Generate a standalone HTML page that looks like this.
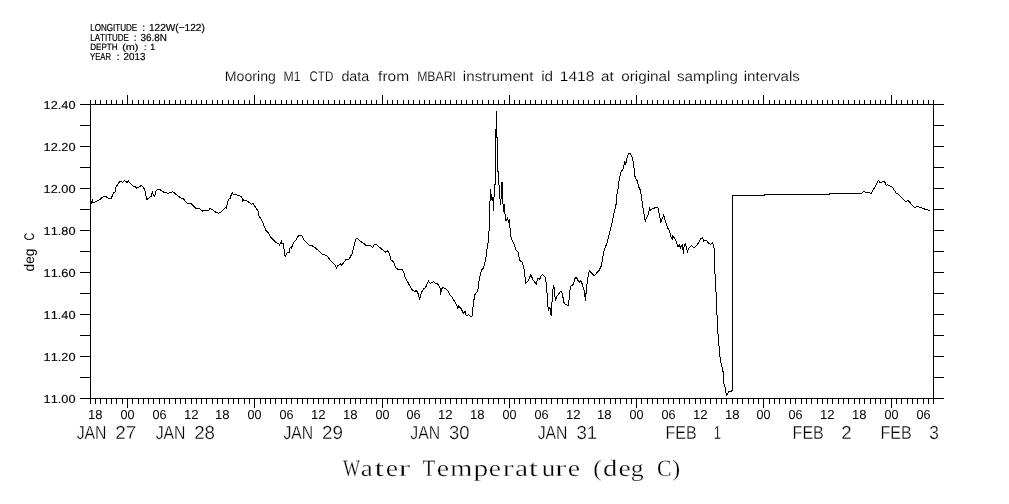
<!DOCTYPE html><html><head><meta charset="utf-8"><style>html,body{margin:0;padding:0;background:#fff;width:1009px;height:504px;overflow:hidden}svg{display:block;filter:grayscale(1)}text{font-family:"Liberation Sans",sans-serif;fill:#000;font-kerning:none;text-rendering:geometricPrecision}</style></head><body>
<svg width="1009" height="504" viewBox="0 0 1009 504">
<path d="M90.5 104V399M933.5 104V399M90 104.5H934M90 398.5H934M80 104.5H90M934 104.5H944M80 125.5H90M934 125.5H944M80 146.5H90M934 146.5H944M80 167.5H90M934 167.5H944M80 188.5H90M934 188.5H944M80 209.5H90M934 209.5H944M80 230.5H90M934 230.5H944M80 251.5H90M934 251.5H944M80 272.5H90M934 272.5H944M80 293.5H90M934 293.5H944M80 314.5H90M934 314.5H944M80 335.5H90M934 335.5H944M80 356.5H90M934 356.5H944M80 377.5H90M934 377.5H944M80 398.5H90M934 398.5H944M90.5 100V104M90.5 399V404M95.5 100V104M95.5 399V404M100.5 100V104M100.5 399V404M106.5 100V104M106.5 399V404M111.5 100V104M111.5 399V404M116.5 100V104M116.5 399V404M122.5 100V104M122.5 399V404M127.5 95V104M127.5 399V408M132.5 100V104M132.5 399V404M138.5 100V104M138.5 399V404M143.5 100V104M143.5 399V404M148.5 100V104M148.5 399V404M153.5 100V104M153.5 399V404M159.5 100V104M159.5 399V404M164.5 100V104M164.5 399V404M169.5 100V104M169.5 399V404M175.5 100V104M175.5 399V404M180.5 100V104M180.5 399V404M185.5 100V104M185.5 399V404M191.5 100V104M191.5 399V404M196.5 100V104M196.5 399V404M201.5 100V104M201.5 399V404M206.5 100V104M206.5 399V404M212.5 100V104M212.5 399V404M217.5 100V104M217.5 399V404M222.5 100V104M222.5 399V404M228.5 100V104M228.5 399V404M233.5 100V104M233.5 399V404M238.5 100V104M238.5 399V404M244.5 100V104M244.5 399V404M249.5 100V104M249.5 399V404M254.5 95V104M254.5 399V408M260.5 100V104M260.5 399V404M265.5 100V104M265.5 399V404M270.5 100V104M270.5 399V404M275.5 100V104M275.5 399V404M281.5 100V104M281.5 399V404M286.5 100V104M286.5 399V404M291.5 100V104M291.5 399V404M297.5 100V104M297.5 399V404M302.5 100V104M302.5 399V404M307.5 100V104M307.5 399V404M313.5 100V104M313.5 399V404M318.5 100V104M318.5 399V404M323.5 100V104M323.5 399V404M328.5 100V104M328.5 399V404M334.5 100V104M334.5 399V404M339.5 100V104M339.5 399V404M344.5 100V104M344.5 399V404M350.5 100V104M350.5 399V404M355.5 100V104M355.5 399V404M360.5 100V104M360.5 399V404M366.5 100V104M366.5 399V404M371.5 100V104M371.5 399V404M376.5 100V104M376.5 399V404M382.5 95V104M382.5 399V408M387.5 100V104M387.5 399V404M392.5 100V104M392.5 399V404M397.5 100V104M397.5 399V404M403.5 100V104M403.5 399V404M408.5 100V104M408.5 399V404M413.5 100V104M413.5 399V404M419.5 100V104M419.5 399V404M424.5 100V104M424.5 399V404M429.5 100V104M429.5 399V404M435.5 100V104M435.5 399V404M440.5 100V104M440.5 399V404M445.5 100V104M445.5 399V404M450.5 100V104M450.5 399V404M456.5 100V104M456.5 399V404M461.5 100V104M461.5 399V404M466.5 100V104M466.5 399V404M472.5 100V104M472.5 399V404M477.5 100V104M477.5 399V404M482.5 100V104M482.5 399V404M488.5 100V104M488.5 399V404M493.5 100V104M493.5 399V404M498.5 100V104M498.5 399V404M504.5 100V104M504.5 399V404M509.5 95V104M509.5 399V408M514.5 100V104M514.5 399V404M519.5 100V104M519.5 399V404M525.5 100V104M525.5 399V404M530.5 100V104M530.5 399V404M535.5 100V104M535.5 399V404M541.5 100V104M541.5 399V404M546.5 100V104M546.5 399V404M551.5 100V104M551.5 399V404M557.5 100V104M557.5 399V404M562.5 100V104M562.5 399V404M567.5 100V104M567.5 399V404M573.5 100V104M573.5 399V404M578.5 100V104M578.5 399V404M583.5 100V104M583.5 399V404M588.5 100V104M588.5 399V404M594.5 100V104M594.5 399V404M599.5 100V104M599.5 399V404M604.5 100V104M604.5 399V404M610.5 100V104M610.5 399V404M615.5 100V104M615.5 399V404M620.5 100V104M620.5 399V404M626.5 100V104M626.5 399V404M631.5 100V104M631.5 399V404M636.5 95V104M636.5 399V408M641.5 100V104M641.5 399V404M647.5 100V104M647.5 399V404M652.5 100V104M652.5 399V404M657.5 100V104M657.5 399V404M663.5 100V104M663.5 399V404M668.5 100V104M668.5 399V404M673.5 100V104M673.5 399V404M679.5 100V104M679.5 399V404M684.5 100V104M684.5 399V404M689.5 100V104M689.5 399V404M695.5 100V104M695.5 399V404M700.5 100V104M700.5 399V404M705.5 100V104M705.5 399V404M710.5 100V104M710.5 399V404M716.5 100V104M716.5 399V404M721.5 100V104M721.5 399V404M726.5 100V104M726.5 399V404M732.5 100V104M732.5 399V404M737.5 100V104M737.5 399V404M742.5 100V104M742.5 399V404M748.5 100V104M748.5 399V404M753.5 100V104M753.5 399V404M758.5 100V104M758.5 399V404M763.5 95V104M763.5 399V408M769.5 100V104M769.5 399V404M774.5 100V104M774.5 399V404M779.5 100V104M779.5 399V404M785.5 100V104M785.5 399V404M790.5 100V104M790.5 399V404M795.5 100V104M795.5 399V404M801.5 100V104M801.5 399V404M806.5 100V104M806.5 399V404M811.5 100V104M811.5 399V404M817.5 100V104M817.5 399V404M822.5 100V104M822.5 399V404M827.5 100V104M827.5 399V404M832.5 100V104M832.5 399V404M838.5 100V104M838.5 399V404M843.5 100V104M843.5 399V404M848.5 100V104M848.5 399V404M854.5 100V104M854.5 399V404M859.5 100V104M859.5 399V404M864.5 100V104M864.5 399V404M870.5 100V104M870.5 399V404M875.5 100V104M875.5 399V404M880.5 100V104M880.5 399V404M885.5 100V104M885.5 399V404M891.5 95V104M891.5 399V408M896.5 100V104M896.5 399V404M901.5 100V104M901.5 399V404M907.5 100V104M907.5 399V404M912.5 100V104M912.5 399V404M917.5 100V104M917.5 399V404M923.5 100V104M923.5 399V404M928.5 100V104M928.5 399V404M933.5 100V104M933.5 399V404" stroke="#000" stroke-width="1" fill="none" shape-rendering="crispEdges"/>
<path d="M91.0 203.8 L92.3 200.3 L93.0 202.9 L96.3 201.2 L99.9 199.8 L102.3 197.1 L105.9 196.4 L107.6 198.0 L111.2 198.3 L113.0 194.4 L113.6 192.6 L115.4 192.0 L115.6 187.6 L117.8 184.3 L120.1 181.0 L122.5 182.5 L124.3 180.5 L127.3 182.5 L128.5 180.7 L129.7 182.9 L132.6 185.7 L136.2 187.3 L136.8 188.1 L140.4 186.4 L141.0 185.5 L143.4 187.3 L145.1 190.8 L146.3 197.4 L146.9 199.5 L148.7 198.0 L151.1 196.4 L152.3 191.7 L153.5 195.0 L154.7 196.4 L155.9 191.4 L157.6 189.3 L159.4 189.3 L164.2 192.4 L167.8 193.2 L171.3 192.6 L172.5 191.4 L176.7 195.0 L182.0 198.6 L183.6 199.0 L186.5 202.9 L191.3 203.6 L195.5 208.0 L199.6 208.8 L202.0 211.2 L203.8 210.4 L208.6 210.7 L209.8 208.6 L212.7 209.8 L215.7 212.1 L218.7 213.1 L221.1 211.9 L225.8 207.4 L226.4 208.3 L227.6 202.6 L228.8 199.0 L230.6 198.5 L231.2 194.3 L232.1 192.5 L233.3 194.9 L234.8 194.0 L238.3 195.5 L241.9 196.7 L242.5 201.2 L243.7 200.0 L247.9 201.4 L250.2 203.2 L251.4 204.4 L253.2 203.6 L254.4 205.6 L258.0 211.0 L258.6 215.7 L261.0 218.7 L262.1 221.1 L265.7 230.0 L268.1 232.4 L270.5 236.9 L271.8 238.3 L276.0 242.7 L278.9 243.7 L279.5 245.1 L281.3 241.5 L281.9 243.9 L283.3 243.6 L284.3 250.5 L285.2 257.0 L286.1 254.3 L287.9 252.3 L289.0 252.9 L290.2 246.9 L291.4 247.9 L293.8 242.1 L295.6 240.4 L298.6 235.4 L301.5 235.4 L305.1 241.5 L309.3 245.1 L313.5 246.3 L317.6 249.9 L322.4 254.3 L327.1 255.8 L330.7 260.6 L335.5 265.4 L336.4 268.1 L337.9 265.7 L340.8 263.8 L341.4 265.4 L346.2 259.4 L349.2 259.0 L352.1 253.5 L353.9 246.9 L355.7 239.2 L356.9 238.3 L360.5 241.2 L365.2 244.5 L366.4 245.7 L370.9 245.9 L372.9 247.5 L373.9 244.9 L375.9 244.3 L379.8 247.5 L383.8 250.8 L385.8 252.2 L387.8 250.8 L389.8 254.8 L390.8 259.8 L393.7 261.7 L395.7 267.7 L398.7 269.7 L401.7 269.3 L403.7 271.7 L404.6 276.6 L408.6 283.6 L411.6 289.5 L414.6 291.5 L416.5 290.5 L418.5 294.5 L419.5 299.8 L421.5 292.5 L423.5 289.1 L425.5 287.5 L428.5 281.2 L430.4 283.6 L433.4 281.6 L435.4 283.6 L437.4 283.2 L440.4 289.1 L440.4 294.5 L442.3 287.5 L445.3 288.5 L448.3 291.5 L450.3 295.5 L452.4 297.6 L455.6 303.2 L457.1 306.3 L457.9 308.7 L458.7 306.3 L461.1 308.7 L463.5 313.5 L465.1 311.1 L465.9 315.1 L467.5 315.9 L468.3 314.3 L470.6 316.3 L472.2 315.9 L473.0 307.1 L474.6 295.2 L477.8 290.9 L479.4 277.8 L481.7 269.8 L483.3 268.3 L485.7 259.5 L486.8 250.0 L488.5 240.0 L489.0 231.4 L489.6 210.0 L490.6 189.4 L490.9 198.1 L491.7 194.1 L492.1 201.3 L492.8 197.3 L493.6 210.8 L494.4 184.6 L495.5 184.0 L495.5 148.0 L496.5 111.0 L496.5 137.0 L497.5 137.0 L497.5 171.0 L498.5 172.0 L498.8 182.2 L499.6 194.9 L500.7 205.2 L501.2 195.7 L502.0 182.2 L502.8 183.0 L503.1 212.4 L503.9 206.0 L504.4 204.4 L505.2 216.3 L506.0 221.1 L507.5 217.9 L508.7 221.9 L509.4 218.7 L510.2 231.4 L511.2 237.8 L513.9 243.8 L515.9 249.8 L517.9 251.7 L519.9 260.7 L521.9 261.7 L523.8 267.6 L525.8 283.1 L527.8 281.5 L530.8 274.6 L532.8 279.5 L534.8 282.5 L536.3 283.9 L537.7 278.5 L539.7 279.5 L540.7 276.5 L542.7 274.6 L544.7 276.5 L545.8 279.4 L547.4 297.6 L548.2 310.3 L549.8 307.1 L551.3 316.3 L552.1 300.8 L553.3 285.7 L554.2 287.3 L555.3 300.8 L556.9 296.0 L558.5 294.4 L560.1 292.1 L561.7 291.0 L564.0 302.4 L565.6 304.8 L568.5 305.2 L570.4 286.5 L572.0 285.2 L573.6 284.6 L574.4 279.4 L576.0 276.7 L579.1 282.5 L580.7 281.0 L582.3 284.1 L583.9 289.7 L585.5 300.5 L586.3 289.7 L587.9 277.8 L589.4 270.6 L594.2 275.7 L599.0 270.6 L601.3 265.9 L602.1 261.1 L603.6 252.1 L607.1 242.6 L609.5 233.1 L611.9 223.6 L614.8 209.3 L615.8 207.7 L616.6 195.8 L618.2 187.9 L619.0 181.5 L620.1 176.0 L621.3 171.2 L622.9 169.6 L624.5 162.5 L625.3 164.0 L626.4 161.7 L627.4 155.8 L629.0 153.3 L630.6 153.7 L632.5 158.5 L633.7 164.0 L634.4 172.8 L635.3 178.3 L637.2 180.7 L638.8 187.1 L640.4 190.2 L642.0 200.6 L643.6 211.7 L645.2 221.2 L646.7 217.2 L648.3 214.8 L649.6 208.5 L650.7 210.1 L653.1 208.5 L655.5 207.7 L657.9 207.7 L659.2 213.9 L660.8 222.2 L661.9 219.4 L663.6 215.3 L665.4 220.8 L667.5 227.8 L669.6 231.3 L671.0 236.8 L672.4 240.3 L672.8 236.1 L675.1 238.9 L676.5 242.4 L677.9 246.5 L679.3 245.1 L680.7 247.9 L682.1 244.4 L683.5 253.5 L684.2 244.4 L685.6 243.8 L686.3 247.9 L687.6 251.4 L689.0 247.9 L691.4 245.6 L693.9 247.9 L696.7 245.1 L698.8 242.4 L700.8 238.9 L702.5 237.5 L703.6 241.0 L706.4 240.3 L708.5 243.3 L710.6 244.2 L712.6 242.4 L714.0 247.9 L714.3 249.5 L715.1 276.5 L715.9 289.2 L716.7 306.7 L717.5 327.9 L719.3 349.3 L720.3 360.0 L720.7 362.4 L721.9 366.3 L722.7 371.1 L723.7 371.9 L723.9 383.4 L724.7 386.2 L725.5 387.4 L725.9 392.5 L726.3 395.3 L727.5 393.7 L729.1 391.3 L730.3 391.7 L731.4 391.0 L732.5 390.6 L732.5 195.5 L764.5 195.5 L764.5 194.5 L829.5 194.5 L829.5 193.5 L861.8 193.5 L863.6 191.3 L865.8 192.3 L869.3 192.6 L871.2 193.6 L872.7 190.3 L874.7 187.4 L876.2 184.9 L877.2 182.4 L878.7 180.4 L880.2 182.9 L882.7 181.4 L884.6 181.4 L886.1 185.4 L887.6 184.9 L890.6 186.2 L892.6 187.4 L894.1 189.8 L896.1 193.0 L899.0 194.8 L902.5 198.3 L905.5 201.3 L908.5 200.8 L911.4 204.2 L914.4 207.2 L918.4 206.7 L922.3 208.2 L926.3 209.7 L928.8 210.2 L929.8 210.5" stroke="#000" stroke-width="1" fill="none" shape-rendering="crispEdges"/>
<text x="90.24" y="31" font-size="10.2" textLength="47.01" lengthAdjust="spacingAndGlyphs" stroke="#000" stroke-width="0.2">LONGITUDE</text>
<text x="142.18" y="31" font-size="10.2" textLength="2.83" lengthAdjust="spacingAndGlyphs" stroke="#000" stroke-width="0.2">:</text>
<text x="148.93" y="31" font-size="10.2" textLength="55.90" lengthAdjust="spacingAndGlyphs" stroke="#000" stroke-width="0.2">122W(−122)</text>
<text x="90.24" y="41" font-size="10.2" textLength="38.70" lengthAdjust="spacingAndGlyphs" stroke="#000" stroke-width="0.2">LATITUDE</text>
<text x="133.83" y="41" font-size="10.2" textLength="2.83" lengthAdjust="spacingAndGlyphs" stroke="#000" stroke-width="0.2">:</text>
<text x="140.52" y="41" font-size="10.2" textLength="26.28" lengthAdjust="spacingAndGlyphs" stroke="#000" stroke-width="0.2">36.8N</text>
<text x="90.24" y="50" font-size="9.0" textLength="27.42" lengthAdjust="spacingAndGlyphs" stroke="#000" stroke-width="0.2">DEPTH</text>
<text x="122.23" y="50" font-size="9.0" textLength="16.24" lengthAdjust="spacingAndGlyphs" stroke="#000" stroke-width="0.2">(m)</text>
<text x="144.05" y="50" font-size="9.0" textLength="2.50" lengthAdjust="spacingAndGlyphs" stroke="#000" stroke-width="0.2">:</text>
<text x="150.13" y="50" font-size="9.0" textLength="4.90" lengthAdjust="spacingAndGlyphs" stroke="#000" stroke-width="0.2">1</text>
<text x="90.03" y="60" font-size="10.2" textLength="21.03" lengthAdjust="spacingAndGlyphs" stroke="#000" stroke-width="0.2">YEAR</text>
<text x="116.73" y="60" font-size="10.2" textLength="2.83" lengthAdjust="spacingAndGlyphs" stroke="#000" stroke-width="0.2">:</text>
<text x="123.61" y="60" font-size="10.2" textLength="21.82" lengthAdjust="spacingAndGlyphs" stroke="#000" stroke-width="0.2">2013</text>
<text x="224.74" y="81" font-size="14" textLength="51.17" lengthAdjust="spacingAndGlyphs" stroke="#fff" stroke-width="0.15">Mooring</text>
<text x="283.60" y="81" font-size="14" textLength="17.00" lengthAdjust="spacingAndGlyphs" stroke="#fff" stroke-width="0.15">M1</text>
<text x="309.51" y="81" font-size="14" textLength="23.74" lengthAdjust="spacingAndGlyphs" stroke="#fff" stroke-width="0.15">CTD</text>
<text x="341.40" y="81" font-size="14" textLength="27.80" lengthAdjust="spacingAndGlyphs" stroke="#fff" stroke-width="0.15">data</text>
<text x="378.08" y="81" font-size="14" textLength="31.04" lengthAdjust="spacingAndGlyphs" stroke="#fff" stroke-width="0.15">from</text>
<text x="417.20" y="81" font-size="14" textLength="38.73" lengthAdjust="spacingAndGlyphs" stroke="#fff" stroke-width="0.15">MBARI</text>
<text x="462.89" y="81" font-size="14" textLength="70.52" lengthAdjust="spacingAndGlyphs" stroke="#fff" stroke-width="0.15">instrument</text>
<text x="541.18" y="81" font-size="14" textLength="11.91" lengthAdjust="spacingAndGlyphs" stroke="#fff" stroke-width="0.15">id</text>
<text x="559.81" y="81" font-size="14" textLength="34.66" lengthAdjust="spacingAndGlyphs" stroke="#fff" stroke-width="0.15">1418</text>
<text x="601.06" y="81" font-size="14" textLength="12.66" lengthAdjust="spacingAndGlyphs" stroke="#fff" stroke-width="0.15">at</text>
<text x="621.26" y="81" font-size="14" textLength="49.26" lengthAdjust="spacingAndGlyphs" stroke="#fff" stroke-width="0.15">original</text>
<text x="676.98" y="81" font-size="14" textLength="60.90" lengthAdjust="spacingAndGlyphs" stroke="#fff" stroke-width="0.15">sampling</text>
<text x="743.79" y="81" font-size="14" textLength="56.05" lengthAdjust="spacingAndGlyphs" stroke="#fff" stroke-width="0.15">intervals</text>
<text x="43.63" y="109" font-size="11.6" textLength="31.87" lengthAdjust="spacingAndGlyphs" stroke="#000" stroke-width="0.15">12.40</text>
<text x="43.63" y="151" font-size="11.6" textLength="31.87" lengthAdjust="spacingAndGlyphs" stroke="#000" stroke-width="0.15">12.20</text>
<text x="43.63" y="193" font-size="11.6" textLength="31.87" lengthAdjust="spacingAndGlyphs" stroke="#000" stroke-width="0.15">12.00</text>
<text x="43.63" y="235" font-size="11.6" textLength="31.87" lengthAdjust="spacingAndGlyphs" stroke="#000" stroke-width="0.15">11.80</text>
<text x="43.63" y="277" font-size="11.6" textLength="31.87" lengthAdjust="spacingAndGlyphs" stroke="#000" stroke-width="0.15">11.60</text>
<text x="43.63" y="319" font-size="11.6" textLength="31.87" lengthAdjust="spacingAndGlyphs" stroke="#000" stroke-width="0.15">11.40</text>
<text x="43.63" y="361" font-size="11.6" textLength="31.87" lengthAdjust="spacingAndGlyphs" stroke="#000" stroke-width="0.15">11.20</text>
<text x="43.63" y="403" font-size="11.6" textLength="31.87" lengthAdjust="spacingAndGlyphs" stroke="#000" stroke-width="0.15">11.00</text>
<g transform="translate(34 0) rotate(-90)">
<text x="-271.48" y="0" font-size="14" textLength="22.97" lengthAdjust="spacingAndGlyphs">deg</text>
<text x="-240.44" y="0" font-size="14" textLength="7.64" lengthAdjust="spacingAndGlyphs">C</text>
</g>
<text x="88.00" y="419" font-size="13" textLength="14.57" lengthAdjust="spacingAndGlyphs">18</text>
<text x="120.51" y="419" font-size="13" textLength="13.98" lengthAdjust="spacingAndGlyphs">00</text>
<text x="152.51" y="419" font-size="13" textLength="14.05" lengthAdjust="spacingAndGlyphs">06</text>
<text x="184.00" y="419" font-size="13" textLength="14.67" lengthAdjust="spacingAndGlyphs">12</text>
<text x="215.00" y="419" font-size="13" textLength="14.57" lengthAdjust="spacingAndGlyphs">18</text>
<text x="247.51" y="419" font-size="13" textLength="13.98" lengthAdjust="spacingAndGlyphs">00</text>
<text x="279.51" y="419" font-size="13" textLength="14.05" lengthAdjust="spacingAndGlyphs">06</text>
<text x="311.00" y="419" font-size="13" textLength="14.67" lengthAdjust="spacingAndGlyphs">12</text>
<text x="343.00" y="419" font-size="13" textLength="14.57" lengthAdjust="spacingAndGlyphs">18</text>
<text x="375.51" y="419" font-size="13" textLength="13.98" lengthAdjust="spacingAndGlyphs">00</text>
<text x="406.51" y="419" font-size="13" textLength="14.05" lengthAdjust="spacingAndGlyphs">06</text>
<text x="438.00" y="419" font-size="13" textLength="14.67" lengthAdjust="spacingAndGlyphs">12</text>
<text x="470.00" y="419" font-size="13" textLength="14.57" lengthAdjust="spacingAndGlyphs">18</text>
<text x="502.51" y="419" font-size="13" textLength="13.98" lengthAdjust="spacingAndGlyphs">00</text>
<text x="534.51" y="419" font-size="13" textLength="14.05" lengthAdjust="spacingAndGlyphs">06</text>
<text x="566.00" y="419" font-size="13" textLength="14.67" lengthAdjust="spacingAndGlyphs">12</text>
<text x="597.00" y="419" font-size="13" textLength="14.57" lengthAdjust="spacingAndGlyphs">18</text>
<text x="629.51" y="419" font-size="13" textLength="13.98" lengthAdjust="spacingAndGlyphs">00</text>
<text x="661.51" y="419" font-size="13" textLength="14.05" lengthAdjust="spacingAndGlyphs">06</text>
<text x="693.00" y="419" font-size="13" textLength="14.67" lengthAdjust="spacingAndGlyphs">12</text>
<text x="725.00" y="419" font-size="13" textLength="14.57" lengthAdjust="spacingAndGlyphs">18</text>
<text x="756.51" y="419" font-size="13" textLength="13.98" lengthAdjust="spacingAndGlyphs">00</text>
<text x="788.51" y="419" font-size="13" textLength="14.05" lengthAdjust="spacingAndGlyphs">06</text>
<text x="820.00" y="419" font-size="13" textLength="14.67" lengthAdjust="spacingAndGlyphs">12</text>
<text x="852.00" y="419" font-size="13" textLength="14.57" lengthAdjust="spacingAndGlyphs">18</text>
<text x="884.51" y="419" font-size="13" textLength="13.98" lengthAdjust="spacingAndGlyphs">00</text>
<text x="916.51" y="419" font-size="13" textLength="14.05" lengthAdjust="spacingAndGlyphs">06</text>
<text x="76.65" y="439" font-size="18.9" textLength="29.83" lengthAdjust="spacingAndGlyphs" stroke="#fff" stroke-width="0.3">JAN</text>
<text x="115.15" y="439" font-size="18.9" textLength="21.00" lengthAdjust="spacingAndGlyphs" stroke="#fff" stroke-width="0.3">27</text>
<text x="155.65" y="439" font-size="18.9" textLength="29.83" lengthAdjust="spacingAndGlyphs" stroke="#fff" stroke-width="0.3">JAN</text>
<text x="194.16" y="439" font-size="18.9" textLength="20.86" lengthAdjust="spacingAndGlyphs" stroke="#fff" stroke-width="0.3">28</text>
<text x="283.45" y="439" font-size="18.9" textLength="29.83" lengthAdjust="spacingAndGlyphs" stroke="#fff" stroke-width="0.3">JAN</text>
<text x="321.95" y="439" font-size="18.9" textLength="20.94" lengthAdjust="spacingAndGlyphs" stroke="#fff" stroke-width="0.3">29</text>
<text x="410.35" y="439" font-size="18.9" textLength="29.83" lengthAdjust="spacingAndGlyphs" stroke="#fff" stroke-width="0.3">JAN</text>
<text x="449.10" y="439" font-size="18.9" textLength="20.52" lengthAdjust="spacingAndGlyphs" stroke="#fff" stroke-width="0.3">30</text>
<text x="537.65" y="439" font-size="18.9" textLength="29.83" lengthAdjust="spacingAndGlyphs" stroke="#fff" stroke-width="0.3">JAN</text>
<text x="576.39" y="439" font-size="18.9" textLength="20.72" lengthAdjust="spacingAndGlyphs" stroke="#fff" stroke-width="0.3">31</text>
<text x="665.48" y="439" font-size="18.9" textLength="31.27" lengthAdjust="spacingAndGlyphs" stroke="#fff" stroke-width="0.3">FEB</text>
<text x="713.81" y="439" font-size="18.9" textLength="7.22" lengthAdjust="spacingAndGlyphs" stroke="#fff" stroke-width="0.3">1</text>
<text x="792.58" y="439" font-size="18.9" textLength="31.27" lengthAdjust="spacingAndGlyphs" stroke="#fff" stroke-width="0.3">FEB</text>
<text x="841.36" y="439" font-size="18.9" textLength="10.38" lengthAdjust="spacingAndGlyphs" stroke="#fff" stroke-width="0.3">2</text>
<text x="880.48" y="439" font-size="18.9" textLength="31.27" lengthAdjust="spacingAndGlyphs" stroke="#fff" stroke-width="0.3">FEB</text>
<text x="929.34" y="439" font-size="18.9" textLength="9.62" lengthAdjust="spacingAndGlyphs" stroke="#fff" stroke-width="0.3">3</text>
<text x="342.98" y="476" font-size="23.5" textLength="17.05" lengthAdjust="spacingAndGlyphs" style="font-family:'Liberation Serif',serif" stroke="#fff" stroke-width="0.3">W</text>
<text x="360.85" y="476" font-size="23.5" textLength="12.02" lengthAdjust="spacingAndGlyphs" style="font-family:'Liberation Serif',serif" stroke="#fff" stroke-width="0.3">a</text>
<text x="374.56" y="476" font-size="23.5" textLength="9.64" lengthAdjust="spacingAndGlyphs" style="font-family:'Liberation Serif',serif" stroke="#fff" stroke-width="0.3">t</text>
<text x="385.71" y="476" font-size="23.5" textLength="12.35" lengthAdjust="spacingAndGlyphs" style="font-family:'Liberation Serif',serif" stroke="#fff" stroke-width="0.3">e</text>
<text x="398.40" y="476" font-size="23.5" textLength="11.71" lengthAdjust="spacingAndGlyphs" style="font-family:'Liberation Serif',serif" stroke="#fff" stroke-width="0.3">r</text>
<text x="422.52" y="476" font-size="23.5" textLength="12.83" lengthAdjust="spacingAndGlyphs" style="font-family:'Liberation Serif',serif" stroke="#fff" stroke-width="0.3">T</text>
<text x="436.71" y="476" font-size="23.5" textLength="12.35" lengthAdjust="spacingAndGlyphs" style="font-family:'Liberation Serif',serif" stroke="#fff" stroke-width="0.3">e</text>
<text x="450.31" y="476" font-size="23.5" textLength="22.04" lengthAdjust="spacingAndGlyphs" style="font-family:'Liberation Serif',serif" stroke="#fff" stroke-width="0.3">m</text>
<text x="473.43" y="476" font-size="23.5" textLength="14.72" lengthAdjust="spacingAndGlyphs" style="font-family:'Liberation Serif',serif" stroke="#fff" stroke-width="0.3">p</text>
<text x="488.82" y="476" font-size="23.5" textLength="12.23" lengthAdjust="spacingAndGlyphs" style="font-family:'Liberation Serif',serif" stroke="#fff" stroke-width="0.3">e</text>
<text x="502.44" y="476" font-size="23.5" textLength="11.06" lengthAdjust="spacingAndGlyphs" style="font-family:'Liberation Serif',serif" stroke="#fff" stroke-width="0.3">r</text>
<text x="515.06" y="476" font-size="23.5" textLength="13.15" lengthAdjust="spacingAndGlyphs" style="font-family:'Liberation Serif',serif" stroke="#fff" stroke-width="0.3">a</text>
<text x="528.87" y="476" font-size="23.5" textLength="9.32" lengthAdjust="spacingAndGlyphs" style="font-family:'Liberation Serif',serif" stroke="#fff" stroke-width="0.3">t</text>
<text x="541.74" y="476" font-size="23.5" textLength="13.52" lengthAdjust="spacingAndGlyphs" style="font-family:'Liberation Serif',serif" stroke="#fff" stroke-width="0.3">u</text>
<text x="555.12" y="476" font-size="23.5" textLength="11.28" lengthAdjust="spacingAndGlyphs" style="font-family:'Liberation Serif',serif" stroke="#fff" stroke-width="0.3">r</text>
<text x="567.81" y="476" font-size="23.5" textLength="12.35" lengthAdjust="spacingAndGlyphs" style="font-family:'Liberation Serif',serif" stroke="#fff" stroke-width="0.3">e</text>
<text x="593.39" y="476" font-size="23.5" textLength="8.43" lengthAdjust="spacingAndGlyphs" style="font-family:'Liberation Serif',serif" stroke="#fff" stroke-width="0.3">(</text>
<text x="602.97" y="476" font-size="23.5" textLength="14.28" lengthAdjust="spacingAndGlyphs" style="font-family:'Liberation Serif',serif" stroke="#fff" stroke-width="0.3">d</text>
<text x="618.51" y="476" font-size="23.5" textLength="12.35" lengthAdjust="spacingAndGlyphs" style="font-family:'Liberation Serif',serif" stroke="#fff" stroke-width="0.3">e</text>
<text x="630.79" y="476" font-size="23.5" textLength="12.90" lengthAdjust="spacingAndGlyphs" style="font-family:'Liberation Serif',serif" stroke="#fff" stroke-width="0.3">g</text>
<text x="656.91" y="476" font-size="23.5" textLength="14.49" lengthAdjust="spacingAndGlyphs" style="font-family:'Liberation Serif',serif" stroke="#fff" stroke-width="0.3">C</text>
<text x="672.23" y="476" font-size="23.5" textLength="7.91" lengthAdjust="spacingAndGlyphs" style="font-family:'Liberation Serif',serif" stroke="#fff" stroke-width="0.3">)</text>
</svg></body></html>
